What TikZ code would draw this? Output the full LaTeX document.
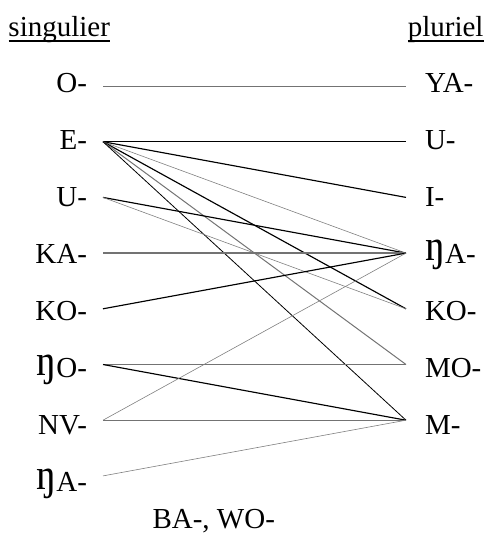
\documentclass[tikz,border=0pt]{standalone}
\usepackage{fontspec}
\setmainfont{Liberation Serif}
\usepackage{graphicx}
\newcommand{\eng}{\raisebox{2.5pt}{\scalebox{1.4}[1.5]{ŋ}}}
\begin{document}
\begin{tikzpicture}[x=1pt,y=-1pt,
  lbl/.style={inner sep=0pt,outer sep=0pt,font=\fontsize{29}{34}\selectfont},
  lleft/.style={lbl,anchor=base east},
  lright/.style={lbl,anchor=base west},
  heavy/.style={line width=1.15pt,black},
  plain/.style={line width=0.8pt,black},
  grayln/.style={line width=1pt,black!55},
  grayth/.style={line width=1.4pt,black!55},
  faint/.style={line width=0.6pt,black!50}]
\useasboundingbox (0,0) rectangle (487,533);

% column headings
\node[lbl,anchor=base west] (sg) at (8.5,36) {singulier};
\node[lbl,anchor=base east] (pl) at (483.5,36) {pluriel};
\draw[line width=1.3pt] ([yshift=-5pt]sg.base west) -- ([yshift=-5pt]sg.base east);
\draw[line width=1.3pt] ([yshift=-5pt]pl.base west) -- ([yshift=-5pt]pl.base east);

% singular classes
\foreach \name/\txt [count=\i from 0] in {O/O-, E/E-, U/U-, KA/KA-, KO/KO-, NGO/\eng O-, NV/NV-, NGA/\eng A-}{
  \node[lleft] (s\name) at (87,92+57.1*\i) {\txt};
  \coordinate (a\name) at (103,86+55.7*\i);
}
% plural classes
\foreach \name/\txt [count=\i from 0] in {YA/YA-, U/U-, I/I-, NGA/\eng A-, KO/KO-, MO/MO-, M/M-}{
  \node[lright] (p\name) at (425,92+57.1*\i) {\txt};
  \coordinate (b\name) at (406,86+55.7*\i);
}

\node[lbl,anchor=base west] (rest) at (152.5,528) {BA-, WO-};

% class pairings
\draw[grayln] (aO) -- (bYA);
\draw[plain]  (aE) -- (bU);
\draw[heavy]  (aE) -- (bI);
\draw[faint]  (aE) -- (bNGA);
\draw[heavy]  (aE) -- (bKO);
\draw[grayln] (aE) -- (bMO);
\draw[plain]  (aE) -- (bM);
\draw[heavy]  (aU) -- (bNGA);
\draw[faint]  (aU) -- (bKO);
\draw[grayth] (aKA) -- (bNGA);
\draw[heavy]  (aKO) -- (bNGA);
\draw[grayth] (aNGO) -- (bMO);
\draw[heavy]  (aNGO) -- (bM);
\draw[faint]  (aNV) -- (bNGA);
\draw[grayth] (aNV) -- (bM);
\draw[faint]  (aNGA) -- (bM);
\end{tikzpicture}
\end{document}
